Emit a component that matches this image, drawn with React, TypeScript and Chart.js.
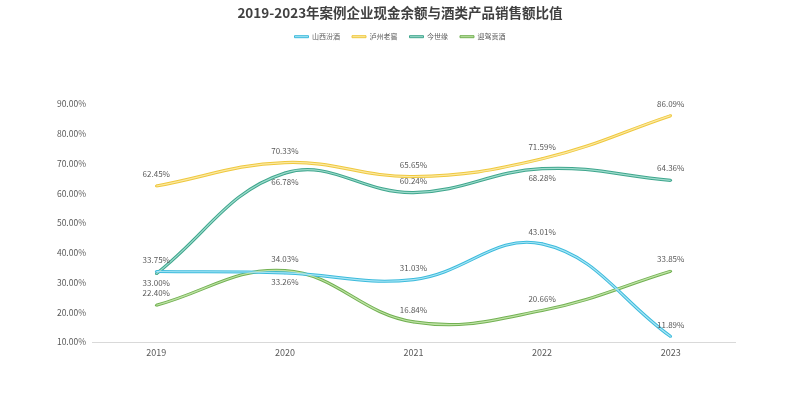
import React, { useEffect, useRef } from "react";
import { Chart, registerables } from "chart.js";

Chart.register(...registerables);

const categories = ["2019", "2020", "2021", "2022", "2023"];
const seriesNames = ["山西汾酒", "泸州老窖", "今世缘", "迎驾贡酒"];
const fenjiu = [33.75, 33.26, 31.03, 43.01, 11.89];
const luzhou = [62.45, 70.33, 65.65, 71.59, 86.09];
const jinshiyuan = [33.0, 66.78, 60.24, 68.28, 64.36];
const yingjia = [22.4, 34.03, 16.84, 20.66, 33.85];
const yTicks = [10, 20, 30, 40, 50, 60, 70, 80, 90];

const seriesValues = [fenjiu, luzhou, jinshiyuan, yingjia];
// label position per point: 1 = above, -1 = below
const labelPos = [
  [1, -1, 1, 1, 1],
  [1, 1, 1, 1, 1],
  [-1, -1, 1, -1, 1],
  [1, 1, 1, 1, 1],
];
const outerColors = ["#3cbbdc", "#efc83e", "#3fa68d", "#72b152"];
const innerColors = ["#a9e5f5", "#fbe9a3", "#9fdccd", "#bfe2a6"];

const FONT = "'Noto Sans CJK SC', 'Noto Sans', sans-serif";
const LEGEND_BOX_HEIGHT = 82.8;

const labelPlugin = {
  id: "pointLabels",
  afterInit(chart: any) {
    const legend = chart.legend;
    if (legend && !legend.__patched) {
      const orig = legend.fit.bind(legend);
      legend.fit = function () {
        orig();
        this.height = LEGEND_BOX_HEIGHT;
      };
      legend.__patched = true;
    }
  },
  afterDatasetsDraw(chart: any) {
    const ctx = chart.ctx;
    ctx.save();
    ctx.font = `8px ${FONT}`;
    ctx.fillStyle = "#595959";
    ctx.textAlign = "center";
    ctx.textBaseline = "middle";
    for (let s = 0; s < seriesValues.length; s++) {
      const meta = chart.getDatasetMeta(s);
      meta.data.forEach((pt: any, i: number) => {
        const v = seriesValues[s][i];
        const dy = labelPos[s][i] > 0 ? -12 : 9;
        ctx.fillText(v.toFixed(2) + "%", pt.x, pt.y + dy);
      });
    }
    ctx.restore();
  },
};

export default function App() {
  const ref = useRef<HTMLCanvasElement>(null);
  useEffect(() => {
    document.body.style.margin = "0";
    const outer = seriesNames.map((name, i) => ({
      label: name,
      data: seriesValues[i],
      borderColor: outerColors[i],
      backgroundColor: outerColors[i],
      borderWidth: 3.2,
      tension: 0.4,
      pointRadius: 1.3,
      pointBackgroundColor: outerColors[i],
      pointBorderWidth: 0,
      order: 2,
      yAxisID: "y",
    }));
    const inner = seriesNames.map((name, i) => ({
      label: name + "_inner",
      data: seriesValues[i],
      borderColor: innerColors[i],
      backgroundColor: innerColors[i],
      borderWidth: 1.2,
      tension: 0.4,
      pointRadius: 0,
      order: 1,
      yAxisID: "y",
    }));
    const chart = new Chart(ref.current!, {
      type: "line",
      data: { labels: categories, datasets: [...outer, ...inner] as any },
      plugins: [labelPlugin],
      options: {
        animation: false,
        responsive: false,
        layout: { padding: { left: 0, right: 0, top: 0, bottom: 38 } },
        plugins: {
          tooltip: { enabled: false },
          title: {
            display: true,
            text: "2019-2023年案例企业现金余额与酒类产品销售额比值",
            color: "#404040",
            font: { family: FONT, size: 13.5, weight: "bold" },
            padding: { top: 5, bottom: 0 },
          },
          legend: {
            display: true,
            labels: {
              font: { family: FONT, size: 7 },
              color: "#595959",
              boxWidth: 14,
              boxHeight: 2,
              padding: 12,
              generateLabels: () =>
                seriesNames.map((n, i) => ({
                  text: n,
                  fillStyle: innerColors[i],
                  strokeStyle: outerColors[i],
                  lineWidth: 1,
                  hidden: false,
                  datasetIndex: i,
                  fontColor: "#595959",
                })),
            },
          },
        },
        scales: {
          x: {
            offset: true,
            grid: { display: false, drawTicks: false },
            border: { display: true, color: "#d9d9d9" },
            ticks: { color: "#595959", font: { family: FONT, size: 9 }, padding: 5 },
          },
          y: {
            min: 10,
            max: 90,
            afterFit: (s: any) => {
              s.width = 92;
            },
            afterBuildTicks: (s: any) => {
              s.ticks = yTicks.map((v) => ({ value: v }));
            },
            grid: { display: false, drawTicks: false },
            border: { display: false },
            ticks: {
              color: "#595959",
              font: { family: FONT, size: 8.5 },
              padding: 6,
              callback: (v: any) => Number(v).toFixed(2) + "%",
            },
          },
          ySpacer: {
            position: "right",
            min: 10,
            max: 90,
            afterFit: (s: any) => {
              s.width = 65;
            },
            grid: { display: false, drawTicks: false },
            border: { display: false },
            ticks: { display: false },
          },
        },
      },
    });
    return () => chart.destroy();
  }, []);
  return (
    <div style={{ width: 800, height: 401 }}>
      <canvas ref={ref} width={800} height={401} style={{ width: 800, height: 401 }} />
    </div>
  );
}
